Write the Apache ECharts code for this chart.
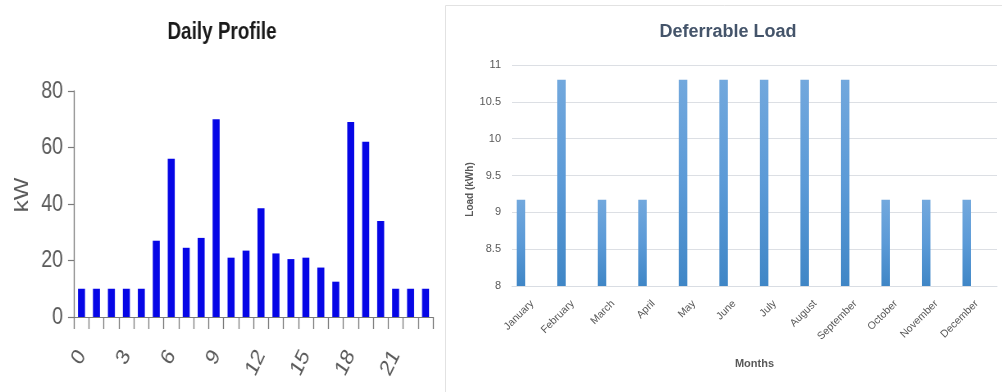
<!DOCTYPE html>
<html>
<head>
<meta charset="utf-8">
<script src="https://cdn.jsdelivr.net/npm/echarts@6/dist/echarts.min.js"></script>
<style>
  html, body { margin: 0; padding: 0; background: #ffffff; overflow: hidden; }
  #wrap { position: relative; width: 1002px; height: 392px; }
  /* left panel is horizontally condensed like the reference image */
  #left { position: absolute; left: 0; top: 0; width: 543px; height: 392px; transform: scaleX(0.82); transform-origin: 0 0; }
  #right { position: absolute; left: 0; top: 0; width: 1002px; height: 392px; pointer-events: none; }
</style>
</head>
<body>
<div id="wrap">
  <div id="left"></div>
  <div id="right"></div>
</div>
<script>
// ---- Data ----
const hours = ['0','1','2','3','4','5','6','7','8','9','10','11','12','13','14','15','16','17','18','19','20','21','22','23'];
const hourlyLoadKW = [10, 10, 10, 10, 10, 27, 56, 24.5, 28, 70, 21, 23.5, 38.5, 22.5, 20.5, 21, 17.5, 12.5, 69, 62, 34, 10, 10, 10];
const months = ['January','February','March','April','May','June','July','August','September','October','November','December'];
const monthlyLoadKWh = [9.17, 10.8, 9.17, 9.17, 10.8, 10.8, 10.8, 10.8, 10.8, 9.17, 9.17, 9.17];
const dailyTicks = { min: 0, max: 80, step: 20 };
const monthlyTicks = { min: 8, max: 11, step: 0.5 };

const sans = "'Liberation Sans', Arial, sans-serif";
const SX = 0.82; // horizontal condensation of the left panel

// ---- Left chart: Daily Profile ----
const left = echarts.init(document.getElementById('left'), null, { renderer: 'canvas' });
left.setOption({
  animation: false,
  backgroundColor: '#ffffff',
  title: {
    text: 'Daily Profile', left: 222 / SX, top: 21, padding: 0, textAlign: 'center',
    textStyle: { fontFamily: sans, fontSize: 23, fontWeight: 'bold', color: '#1a1a1a' }
  },
  grid: { left: 74 / SX, top: 91, width: 359 / SX, height: 226 },
  xAxis: {
    type: 'category', data: hours,
    axisLine: { lineStyle: { color: '#7a7a7a', width: 1.2 } },
    axisTick: { show: true, interval: 0, length: 12, lineStyle: { color: '#7a7a7a', width: 1.3 } },
    axisLabel: { interval: 2, rotate: 60, margin: 35, fontSize: 23, fontFamily: sans, color: '#5a5a5a' }
  },
  yAxis: {
    type: 'value', min: dailyTicks.min, max: dailyTicks.max, interval: dailyTicks.step,
    axisLine: { show: true, lineStyle: { color: '#7a7a7a', width: 1.3 } },
    axisTick: { show: true, length: 6 / SX, lineStyle: { color: '#7a7a7a', width: 1.2 } },
    splitLine: { show: false },
    axisLabel: { margin: 11 / SX, fontSize: 24, fontFamily: sans, color: '#5a5a5a' },
    name: 'kW', nameLocation: 'middle', nameGap: 42 / SX,
    nameTextStyle: { fontFamily: sans, fontSize: 24, color: '#5a5a5a', padding: [0, 0, 0, 18] }
  },
  series: [{
    type: 'bar', data: hourlyLoadKW, barWidth: 7 / SX,
    itemStyle: { color: '#0606e6' }
  }]
});

// ---- Right chart: Deferrable Load ----
const right = echarts.init(document.getElementById('right'), null, { renderer: 'canvas' });
right.setOption({
  animation: false,
  backgroundColor: 'transparent',
  title: {
    text: 'Deferrable Load', left: 728, top: 23, padding: 0, textAlign: 'center',
    textStyle: { fontFamily: sans, fontSize: 18, fontWeight: 'bold', color: '#44546a' }
  },
  graphic: [{
    type: 'rect', silent: true, z: -1,
    shape: { x: 445.5, y: 5.5, width: 600, height: 420 },
    style: { fill: '#ffffff', stroke: '#e2e2e2', lineWidth: 1 }
  }],
  grid: [
    { left: 500.7, top: 65, width: 486.3, height: 221 },
    { left: 512, top: 65, width: 485, height: 221 }
  ],
  xAxis: [
    { gridIndex: 0, type: 'category', data: months, show: false },
    {
      gridIndex: 1, type: 'category', data: months,
      axisLine: { lineStyle: { color: '#d9dde3' } },
      axisTick: { show: false },
      axisLabel: { interval: 0, rotate: 45, margin: 16, fontSize: 10.5, fontFamily: sans, color: '#595959' },
      name: 'Months', nameLocation: 'middle', nameGap: 72,
      nameTextStyle: { fontFamily: sans, fontSize: 11, fontWeight: 'bold', color: '#595959' }
    }
  ],
  yAxis: [
    {
      gridIndex: 0, type: 'value', min: monthlyTicks.min, max: monthlyTicks.max, interval: monthlyTicks.step, show: false,
      splitLine: { show: false }
    },
    {
      gridIndex: 1, type: 'value', min: monthlyTicks.min, max: monthlyTicks.max, interval: monthlyTicks.step,
      axisLine: { show: false }, axisTick: { show: false },
      splitLine: { show: true, lineStyle: { color: '#dcdfe4', width: 1 } },
      axisLabel: { margin: 11, fontSize: 11, fontFamily: sans, color: '#595959' },
      name: 'Load (kWh)', nameLocation: 'middle', nameGap: 36,
      nameTextStyle: { fontFamily: sans, fontSize: 10, fontWeight: 'bold', color: '#595959', padding: [0, 28, 0, 0] }
    }
  ],
  series: [{
    type: 'bar', xAxisIndex: 0, yAxisIndex: 0, data: monthlyLoadKWh, barWidth: 8.5,
    itemStyle: {
      color: new echarts.graphic.LinearGradient(0, 0, 0, 1, [
        { offset: 0, color: '#72a8dd' },
        { offset: 0.5, color: '#5b9ad7' },
        { offset: 1, color: '#3f86c6' }
      ])
    }
  }]
});
</script>
</body>
</html>
